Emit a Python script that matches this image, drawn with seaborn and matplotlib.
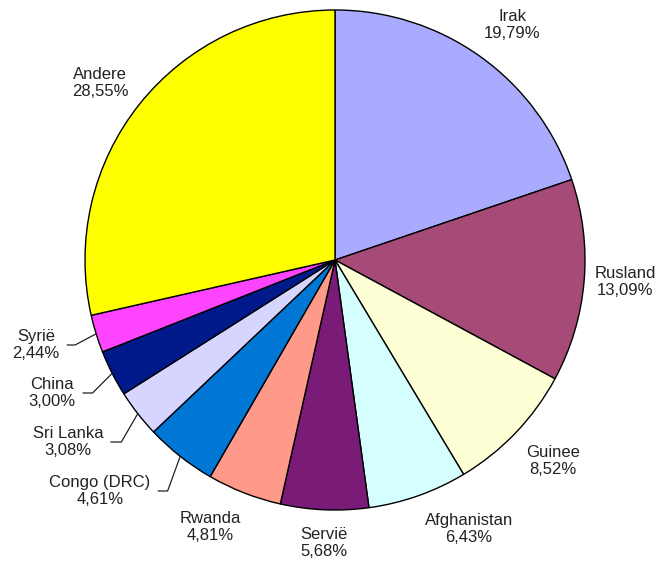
import numpy as np
import matplotlib
matplotlib.use("Agg")
import matplotlib.pyplot as plt
import seaborn as sns

# Data
countries = ["Irak", "Rusland", "Guinee", "Afghanistan", "Servië", "Rwanda",
             "Congo (DRC)", "Sri Lanka", "China", "Syrië", "Andere"]
shares = [19.79, 13.09, 8.52, 6.43, 5.68, 4.81, 4.61, 3.08, 3.00, 2.44, 28.55]
share_labels = ["19,79%", "13,09%", "8,52%", "6,43%", "5,68%", "4,81%",
                "4,61%", "3,08%", "3,00%", "2,44%", "28,55%"]
colors = ["#AAAAFF", "#A64B78", "#FFFFD5", "#D5FFFF", "#7B1B78", "#FF9A8A",
          "#0077D5", "#D5D5FF", "#001A8C", "#FF44FF", "#FFFF00"]

sns.set_theme(style="white")
plt.rcParams["font.family"] = ["Liberation Sans", "DejaVu Sans"]

fig = plt.figure(figsize=(6.61, 5.70), dpi=100)
ax = fig.add_axes([0, 0, 1, 1])

wedges, _ = ax.pie(shares, colors=colors, startangle=90, counterclock=False,
                   wedgeprops=dict(edgecolor="black", linewidth=1.0))

# canvas: pie centre at (335, 260) px, radius 250 px
CX, CY, R = 335, 260, 250
ax.set_xlim(-CX / R, (661 - CX) / R)
ax.set_ylim(-(570 - CY) / R, CY / R)
ax.set_aspect("equal")
ax.axis("off")


def px(x, y):
    return ((x - CX) / R, (CY - y) / R)


label_pos = {
    "Irak": (512, 25), "Rusland": (625, 282), "Guinee": (553, 461),
    "Afghanistan": (469, 529), "Servië": (324, 543), "Rwanda": (210, 527),
    "Congo (DRC)": (100, 491), "Sri Lanka": (68, 442), "China": (52, 393),
    "Syrië": (36, 345), "Andere": (100, 83),
}
# angle of the segment that meets the wedge, for labels with a leader line
leader_angle = {"Syrië": 28, "China": 45, "Sri Lanka": 60, "Congo (DRC)": 70}

for w, name, lab in zip(wedges, countries, share_labels):
    mid = np.deg2rad((w.theta1 + w.theta2) / 2)
    txt = f"{name}\n{lab}"
    pos = px(*label_pos[name])
    if name in leader_angle:
        ax.annotate(txt, xy=(np.cos(mid), np.sin(mid)), xytext=pos,
                    ha="center", va="center", fontsize=12, color="#222222",
                    linespacing=1.2,
                    arrowprops=dict(arrowstyle="-", color="#222222", lw=0.9,
                                    relpos=(1.0, 0.5), shrinkA=3, shrinkB=0,
                                    connectionstyle=f"angle,angleA=0,angleB={leader_angle[name]},rad=0"))
    else:
        ax.text(pos[0], pos[1], txt, ha="center", va="center",
                fontsize=12, color="#222222", linespacing=1.2)

plt.savefig("out.png", dpi=100)
plt.close()
